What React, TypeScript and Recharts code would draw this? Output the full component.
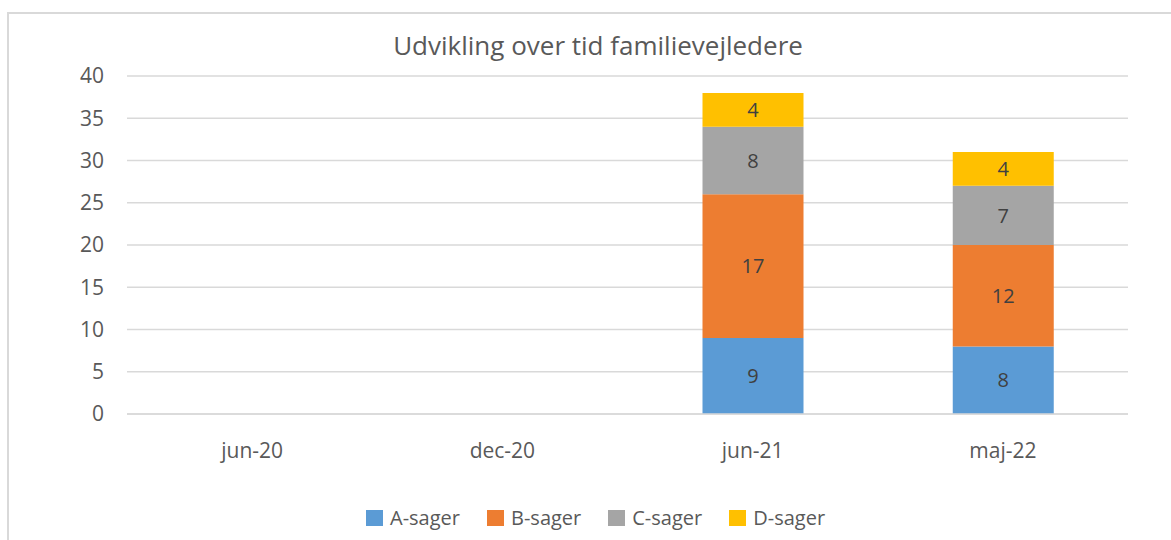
import React from 'react';
import { BarChart, Bar, XAxis, YAxis, CartesianGrid, LabelList } from 'recharts';

const periods = ['jun-20', 'dec-20', 'jun-21', 'maj-22'];
const aSager = [null, null, 9, 8];
const bSager = [null, null, 17, 12];
const cSager = [null, null, 8, 7];
const dSager = [null, null, 4, 4];
const yTicks = [0, 5, 10, 15, 20, 25, 30, 35, 40];

const series = [
  { key: 'A-sager', values: aSager, color: '#5B9BD5' },
  { key: 'B-sager', values: bSager, color: '#ED7D31' },
  { key: 'C-sager', values: cSager, color: '#A5A5A5' },
  { key: 'D-sager', values: dSager, color: '#FFC000' },
];

const chartData = periods.map((p, i) => {
  const row: Record<string, string | number | null> = { period: p };
  series.forEach((s) => {
    row[s.key] = s.values[i];
  });
  return row;
});

const font = '"Open Sans", "Liberation Sans", sans-serif';
const textColor = '#595959';

const App: React.FC = () => {
  return (
    <div
      style={{
        position: 'absolute',
        left: 0,
        top: 0,
        width: 1171,
        height: 540,
        overflow: 'hidden',
        background: '#fff',
        fontFamily: font,
      }}
    >
      <div
        style={{
          position: 'absolute',
          left: 7,
          top: 12,
          width: 1200,
          height: 600,
          border: '2px solid #d9d9d9',
        }}
      />
      <div
        style={{
          position: 'absolute',
          top: 27,
          left: 0,
          width: 1196,
          textAlign: 'center',
          fontSize: 26,
          lineHeight: '36px',
          color: textColor,
        }}
      >
        Udvikling over tid familievejledere
      </div>
      <div style={{ position: 'absolute', left: 0, top: 0 }}>
        <BarChart
          width={1171}
          height={540}
          data={chartData}
          margin={{ top: 76, right: 43, left: 0, bottom: 76 }}
          barSize={101}
        >
          <CartesianGrid vertical={false} stroke="#d9d9d9" strokeWidth={1.3} />
          <XAxis
            dataKey="period"
            axisLine={{ stroke: '#d9d9d9', strokeWidth: 1.3 }}
            tickLine={false}
            tickSize={0}
            tickMargin={29}
            height={50}
            tick={{ fontSize: 21, fill: textColor, fontFamily: font }}
          />
          <YAxis
            width={127}
            domain={[0, 40]}
            ticks={yTicks}
            axisLine={false}
            tickLine={false}
            tickSize={0}
            tickMargin={23}
            interval={0}
            tick={{ fontSize: 21, fill: textColor, fontFamily: font }}
          />
          {series.map((s) => (
            <Bar
              key={s.key}
              dataKey={s.key}
              stackId="a"
              fill={s.color}
              isAnimationActive={false}
            >
              <LabelList
                dataKey={s.key}
                position="center"
                fill="#404040"
                fontSize={20}
                fontFamily={font}
                formatter={(v: unknown) => (v == null ? '' : String(v))}
              />
            </Bar>
          ))}
        </BarChart>
      </div>
      <div
        style={{
          position: 'absolute',
          top: 504,
          left: 366,
          display: 'flex',
          alignItems: 'center',
          fontSize: 20,
          lineHeight: '28px',
          color: textColor,
        }}
      >
        {series.map((s) => (
          <div key={s.key} style={{ display: 'flex', alignItems: 'center', marginRight: 27 }}>
            <span
              style={{
                display: 'inline-block',
                width: 17,
                height: 16,
                background: s.color,
                marginRight: 7,
              }}
            />
            <span>{s.key}</span>
          </div>
        ))}
      </div>
    </div>
  );
};

export default App;
